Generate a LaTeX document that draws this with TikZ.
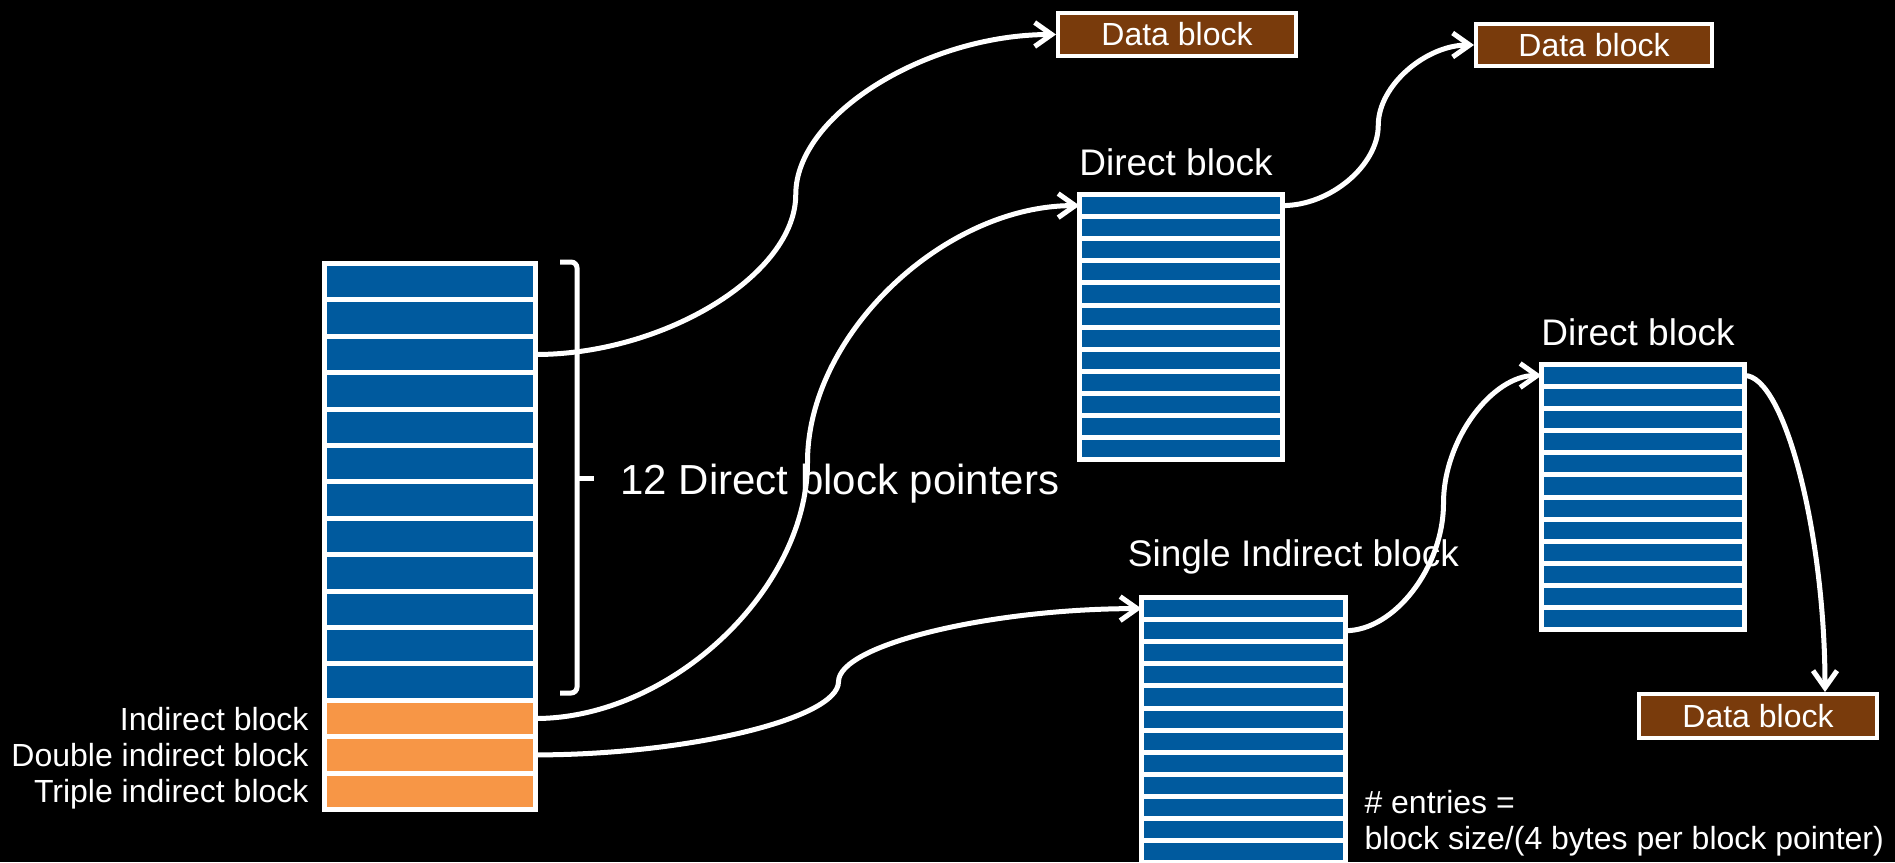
\documentclass[tikz,border=0pt]{standalone}
\usepackage{fontspec}
\setmainfont{Liberation Sans}
\usetikzlibrary{arrows.meta,positioning,calc}

\definecolor{ptrblue}{RGB}{0,90,158}
\definecolor{ptrorange}{RGB}{247,150,70}
\definecolor{databrown}{RGB}{121,59,12}

\begin{document}
\begin{tikzpicture}[x=1pt,y=-1pt,>={Straight Barb[length=17pt,width=24pt]},
                    line width=5pt,node distance=0pt]

  \tikzstyle{cell}=[draw=white,fill=ptrblue,inner sep=0pt,outer sep=0pt,
                    minimum width=211pt,minimum height=36.4pt]
  \tikzstyle{entry}=[cell,minimum width=203pt,minimum height=22.1pt]
  \tikzstyle{databox}=[draw=white,fill=databrown,line width=4pt,text=white,
                       minimum width=238pt,minimum height=43pt,inner sep=0pt,
                       font=\fontsize{32}{38}\selectfont]
  \tikzstyle{title}=[text=white,inner sep=0pt,font=\fontsize{37}{44}\selectfont]
  \tikzstyle{lbl}=[text=white,inner sep=0pt,text depth=0pt,
                   font=\fontsize{32}{38}\selectfont]
  \tikzstyle{conn}=[->,draw=white,line width=5pt]

  \useasboundingbox (0,0) rectangle (1895,862);
  \fill[black] (0,0) rectangle (1895,862);

  \node[cell]                      (m1) at (430,281.7) {};
  \foreach \i [remember=\i as \j (initially 1)] in {2,...,12}
    \node[cell, below=of m\j]      (m\i) {};
  \foreach \i [remember=\i as \j (initially 12)] in {13,14,15}
    \node[cell, fill=ptrorange, below=of m\j] (m\i) {};

  \node[lbl, left=13.5pt of m13]   (ind)  {Indirect block};
  \node[lbl, left=13.5pt of m14]   (dind) {Double indirect block};
  \node[lbl, left=13.5pt of m15]   (tind) {Triple indirect block};

  \draw[white, rounded corners=6pt] (560,262) -| (577,693) -- (560,693);
  \draw[white] (577,478) -- (594,478);
  \node[anchor=base west, text=white, inner sep=0pt,
        font=\fontsize{42}{50}\selectfont] (ptrs) at (618,494) {12 Direct block pointers};

  \node[entry]                     (d1) at (1181,205.6) {};
  \foreach \i [remember=\i as \j (initially 1)] in {2,...,12}
    \node[entry, below=of d\j]     (d\i) {};
  \node[title, above=16pt of d1, xshift=-5pt] (dlbl) {Direct block};

  \node[entry]                     (e1) at (1643,375.5) {};
  \foreach \i [remember=\i as \j (initially 1)] in {2,...,12}
    \node[entry, below=of e\j]     (e\i) {};
  \node[title, above=16pt of e1, xshift=-5pt] (elbl) {Direct block};

  \node[entry, minimum width=204pt] (s1) at (1243.5,608.6) {};
  \foreach \i [remember=\i as \j (initially 1)] in {2,...,12}
    \node[entry, minimum width=204pt, below=of s\j] (s\i) {};
  \node[title, above=20.5pt of s1, xshift=50pt] (slbl) {Single Indirect block};

  \node[databox]                   (data1) at (1177,34.5) {Data block};
  \node[databox, minimum height=42pt, minimum width=236pt] (data2) at (1594,45) {Data block};
  \node[databox, minimum height=44pt] (data3) at (1758,716) {Data block};

  \node[lbl, anchor=base west]     (cnt)  at (1362,813) {\# entries =};
  \node[lbl, anchor=base west]     (size) at (1362,849) {block size/(4 bytes per block pointer)};

  \draw[conn] (m3.east)
    to[out=0,in=-90,out distance=129pt,in distance=80pt] ($(m3.east)!0.5!(data1.west)$)
    to[out=90,in=180,out distance=80pt,in distance=129pt] (data1.west);
  \draw[conn] (m13.east)
    to[out=0,in=-90,out distance=135pt,in distance=128pt] ($(m13.east)!0.5!(d1.west)$)
    to[out=90,in=180,out distance=128pt,in distance=135pt] (d1.west);
  \draw[conn] (m14.east)
    to[out=0,in=-90,out distance=151pt,in distance=37pt] ($(m14.east)!0.5!(s1.west)$)
    to[out=90,in=180,out distance=37pt,in distance=151pt] (s1.west);
  \draw[conn] (d1.east)
    to[out=0,in=-90,out distance=48pt,in distance=40pt] ($(d1.east)!0.5!(data2.west)$)
    to[out=90,in=180,out distance=40pt,in distance=48pt] (data2.west);
  \draw[conn] (s2.east)
    to[out=0,in=-90,out distance=49pt,in distance=64pt] ($(s2.east)!0.5!(e1.west)$)
    to[out=90,in=180,out distance=64pt,in distance=49pt] (e1.west);
  \draw[conn] (e1.east)
    to[out=0,in=90,out distance=40pt,in distance=158pt] ([xshift=67pt]data3.north);
\end{tikzpicture}
\end{document}
